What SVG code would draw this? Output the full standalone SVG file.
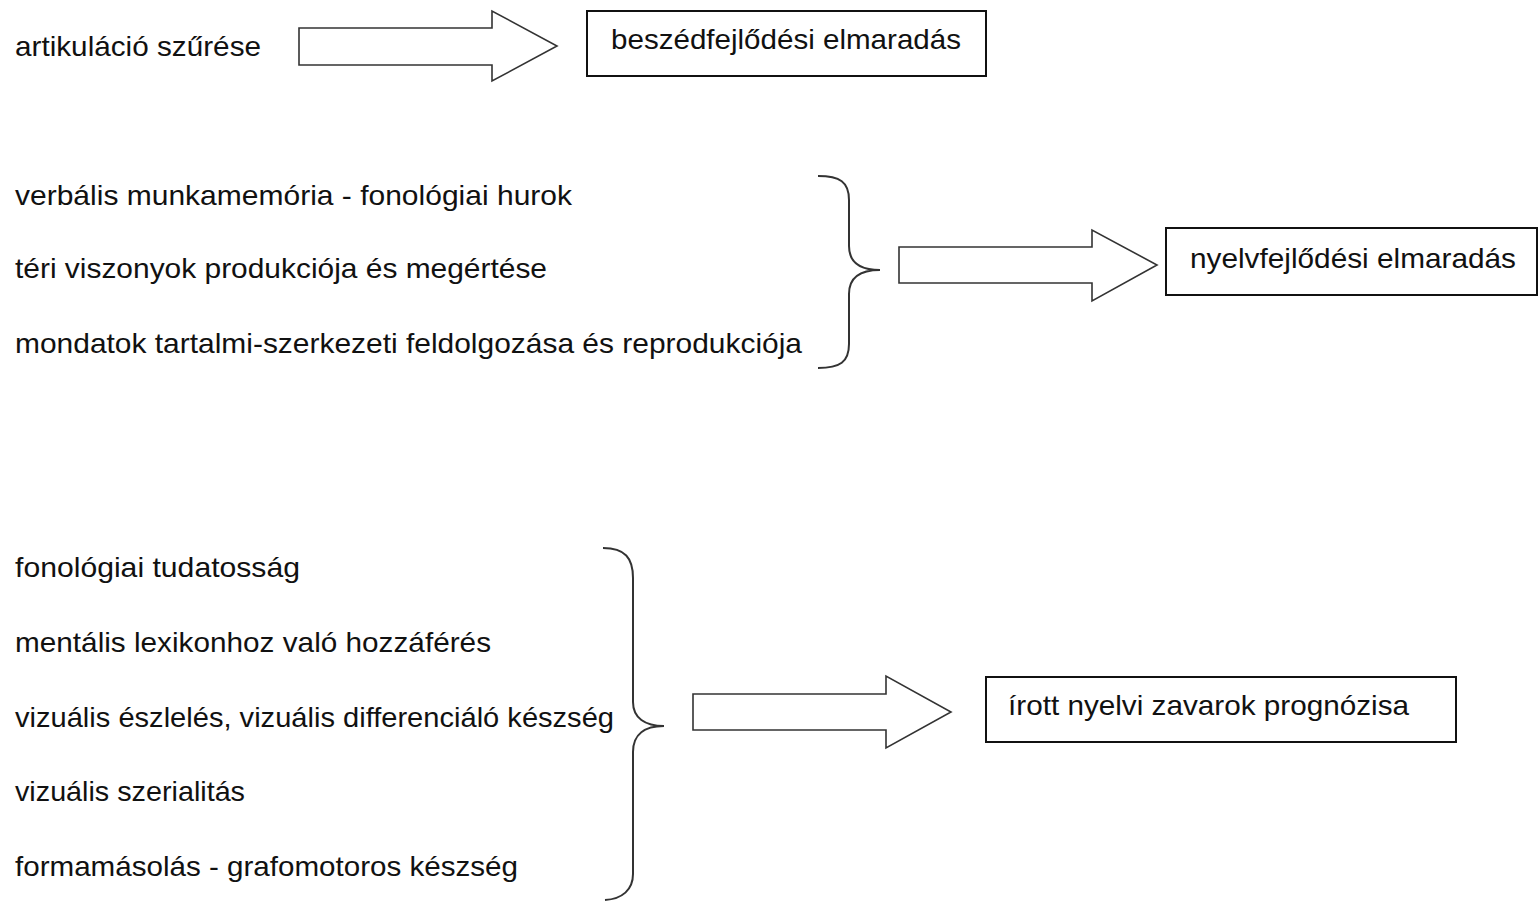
<svg xmlns="http://www.w3.org/2000/svg" width="1539" height="901" viewBox="0 0 1539 901">
<style>
text{font-family:"Liberation Sans","Open Sans",sans-serif;font-size:28px;fill:#111;}
.box{fill:#fff;stroke:#111;stroke-width:2;}
.arrow{fill:#fff;stroke:#333;stroke-width:1.6;stroke-linejoin:miter;}
.brace{fill:none;stroke:#333;stroke-width:2;}
</style>
<rect width="1539" height="901" fill="#fff"/>
<g id="n-artikulacio"><text x="15" y="56" textLength="246" lengthAdjust="spacingAndGlyphs">artikuláció szűrése</text></g>
<g id="n-beszed"><rect class="box" x="587" y="11" width="399" height="65"/><text x="611" y="49" textLength="350" lengthAdjust="spacingAndGlyphs">beszédfejlődési elmaradás</text></g>
<g id="n-verbalis"><text x="15" y="205" textLength="557" lengthAdjust="spacingAndGlyphs">verbális munkamemória - fonológiai hurok</text></g>
<g id="n-teri"><text x="15" y="278" textLength="532" lengthAdjust="spacingAndGlyphs">téri viszonyok produkciója és megértése</text></g>
<g id="n-mondatok"><text x="15" y="353" textLength="787" lengthAdjust="spacingAndGlyphs">mondatok tartalmi-szerkezeti feldolgozása és reprodukciója</text></g>
<g id="n-nyelv"><rect class="box" x="1166" y="228" width="371" height="67"/><text x="1190" y="268" textLength="326" lengthAdjust="spacingAndGlyphs">nyelvfejlődési elmaradás</text></g>
<g id="n-fonologiai"><text x="15" y="577" textLength="285" lengthAdjust="spacingAndGlyphs">fonológiai tudatosság</text></g>
<g id="n-mentalis"><text x="15" y="652" textLength="476" lengthAdjust="spacingAndGlyphs">mentális lexikonhoz való hozzáférés</text></g>
<g id="n-vizualis1"><text x="15" y="727" textLength="599" lengthAdjust="spacingAndGlyphs">vizuális észlelés, vizuális differenciáló készség</text></g>
<g id="n-vizualis2"><text x="15" y="801" textLength="230" lengthAdjust="spacingAndGlyphs">vizuális szerialitás</text></g>
<g id="n-formamasolas"><text x="15" y="876" textLength="503" lengthAdjust="spacingAndGlyphs">formamásolás - grafomotoros készség</text></g>
<g id="n-irott"><rect class="box" x="986" y="677" width="470" height="65"/><text x="1008" y="715" textLength="401" lengthAdjust="spacingAndGlyphs">írott nyelvi zavarok prognózisa</text></g>
<g id="connectors">
<polygon class="arrow" points="299,28 492,28 492,11 557,46 492,81 492,65 299,65"/>
<polygon class="arrow" points="899,247 1092,247 1092,230 1157,265 1092,301 1092,283 899,283"/>
<polygon class="arrow" points="693,694 886,694 886,676 951,712 886,748 886,730 693,730"/>
<path class="brace" d="M818,176 C840,176 849,182 849,200 L849,246 C849,262 860,270 880,270 C860,270 849,278 849,294 L849,344 C849,362 840,368 818,368"/>
<path class="brace" d="M603,548 C625,548 633,558 633,578 L633,702 C633,718 645,726 664,726 C645,726 633,734 633,752 L633,874 C633,890 622,899 605,900"/>
</g>
</svg>
